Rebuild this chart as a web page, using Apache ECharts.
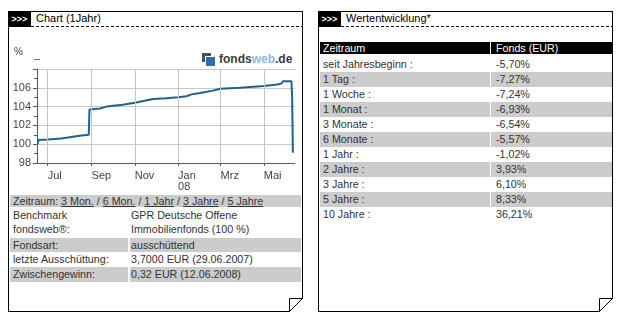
<!DOCTYPE html>
<html><head><meta charset="utf-8">
<script src="https://cdn.jsdelivr.net/npm/echarts@6/dist/echarts.min.js"></script>
<style>
html,body{margin:0;padding:0;background:#fff}
body{width:618px;height:316px;overflow:hidden;position:relative;font-family:"Liberation Sans",Arial,sans-serif;font-size:10.7px;color:#333}
.a{position:absolute;white-space:nowrap}
.blk{background:#000}
.gray{background:#cccccc}
.dash{height:1px;background:repeating-linear-gradient(to right,#000 0 3px,transparent 3px 5px)}
.hb{color:#fff;font-weight:bold;font-size:9px;line-height:16px;text-align:center;letter-spacing:0px}
.u{text-decoration:underline}
</style></head>
<body>
<div id="page"></div>
<div id="chart" class="a" style="left:9px;top:36px;width:292px;height:156px"></div>
<script>
// ---------- data ----------
const dates = ['2007-06-17','2007-06-18','2007-07-01','2007-07-20','2007-08-01','2007-08-15','2007-08-28','2007-08-29','2007-09-13','2007-09-22','2007-10-15','2007-11-01','2007-11-27','2007-12-15','2008-01-01','2008-01-13','2008-01-20','2008-02-01','2008-02-19','2008-03-01','2008-03-29','2008-05-01','2008-05-20','2008-05-26','2008-05-28','2008-06-09','2008-06-10','2008-06-11'];
const values = [100.05,100.45,100.5,100.6,100.75,100.9,101.0,103.7,103.8,104.0,104.2,104.4,104.8,104.9,105.0,105.1,105.3,105.45,105.7,105.9,106.0,106.2,106.35,106.45,106.7,106.7,104.9,99.1];
const xTickDates = ['2007-07-01','2007-09-01','2007-11-01','2008-01-01','2008-03-01','2008-05-01'];
const xTickLabels = ['Jul','Sep','Nov','Jan\n08','Mrz','Mai'];
const yMin = 98, yMax = 108, yStep = 2;
const axisStart = '2007-06-16', axisEnd = '2008-06-14';

const infoLabels = ['Benchmark\nfondsweb®:','Fondsart:','letzte Ausschüttung:','Zwischengewinn:'];
const infoValues = ['GPR Deutsche Offene\nImmobilienfonds (100 %)','ausschüttend','3,7000 EUR (29.06.2007)','0,32 EUR (12.06.2008)'];
const periodLinks = ['3 Mon.','6 Mon.','1 Jahr','3 Jahre','5 Jahre'];

const perfHeader = ['Zeitraum','Fonds (EUR)'];
const perfPeriods = ['seit Jahresbeginn :','1 Tag :','1 Woche :','1 Monat :','3 Monate :','6 Monate :','1 Jahr :','2 Jahre :','3 Jahre :','5 Jahre :','10 Jahre :'];
const perfValues = ['-5,70%','-7,27%','-7,24%','-6,93%','-6,54%','-5,57%','-1,02%','3,93%','6,10%','8,33%','36,21%'];

// ---------- page layout ----------
function ts(s){const p=s.split('-').map(Number);return Date.UTC(p[0],p[1]-1,p[2]);}
const page = document.getElementById('page');
function box(l,t,w,h,cls,html,style){const d=document.createElement('div');d.className='a '+(cls||'');d.style.cssText=`left:${l}px;top:${t}px;width:${w}px;height:${h}px;`+(style||'');if(html!==undefined)d.innerHTML=html;page.appendChild(d);return d;}
function panel(x0,x1,title){
  box(x0,11,x1-x0+1,1,'blk');
  box(x0,11,1,301,'blk');
  box(x1,11,1,288,'blk');
  box(x0,311,x1-13-x0+1,1,'blk');
  box(x0,11,23,16,'blk hb','&gt;&gt;&gt;');
  box(x0+28,11,200,16,'',title,'line-height:15px;color:#000;font-size:11px');
  box(x0+23,26,x1-x0-22,1,'dash');
  const f=x1-13;
  const svg=`<svg width="16" height="16" style="position:absolute;left:${f-1}px;top:297px;overflow:visible"><polyline points="1.5,14.5 1.5,1.5 14.5,1.5" fill="none" stroke="#000" stroke-width="1"/><line x1="14.5" y1="1.5" x2="1.5" y2="14.5" stroke="#000" stroke-width="1"/></svg>`;
  page.insertAdjacentHTML('beforeend',svg);
}
panel(8,302,'Chart (1Jahr)');
panel(318,612,'Wertentwicklung*');

// left info block
box(10,195,291,12,'gray','','');
box(13,195,288,12,'','Zeitraum: '+periodLinks.map(s=>'<span class="u">'+s+'</span>').join(' / '),'line-height:12px');
const infoRows=[{t:208,h:30,lh:14,g:false},{t:238,h:14,lh:14,g:true},{t:252,h:15,lh:15,g:false},{t:267,h:15,lh:15,g:true}];
infoRows.forEach((r,i)=>{
  if(r.g){box(10,r.t,118,r.h,'gray');box(130,r.t,171,r.h,'gray');}
  box(13,r.t,114,r.h,'',infoLabels[i].replace('\n','<br>'),`line-height:${r.lh}px`);
  box(131,r.t,170,r.h,'',infoValues[i].replace('\n','<br>'),`line-height:${r.lh}px`);
});

// right perf table
box(320,42,170,12,'blk');box(491,42,121,12,'blk');
box(323,42,160,12,'',perfHeader[0],'line-height:12px;color:#fff');
box(496,42,110,12,'',perfHeader[1],'line-height:12px;color:#fff');
perfPeriods.forEach((p,i)=>{
  const t=57+15*i;
  if(i%2===1){box(320,t,170,15,'gray');box(491,t,121,15,'gray');}
  box(323,t,160,15,'',p,'line-height:15px');
  box(496,t,110,15,'',perfValues[i],'line-height:15px');
});

// logo
box(202,53,9,9,'','','background:#505050');
box(205,56,9,9,'','','background:#2a6db3;border-top:1px solid #fff;border-left:1px solid #fff');
box(219,51,80,16,'','<span style="color:#3c3c3c">fonds</span><span style="color:#8cb9e3">web</span><span style="color:#3c3c3c">.de</span>','font-weight:bold;font-size:12px;line-height:16px');

// ---------- chart ----------
const chart = echarts.init(document.getElementById('chart'), null, {renderer:'canvas'});
const tickTs = xTickDates.map(ts);
const lineData = dates.map((d,i)=>[ts(d),values[i]]);
const axisColor = '#2c6688';
chart.setOption({
  animation:false,
  grid:{left:28,right:6,top:33,bottom:29},
  xAxis:{type:'value',min:ts(axisStart),max:ts(axisEnd),
    axisLine:{show:true,lineStyle:{color:axisColor,width:1}},
    axisTick:{show:true,customValues:tickTs,length:3,lineStyle:{color:axisColor}},
    axisLabel:{customValues:tickTs,align:'left',margin:7,fontSize:11,lineHeight:11,color:'#3b4650',fontFamily:'Liberation Sans',
      formatter:v=>{const i=tickTs.indexOf(v);return i>=0?xTickLabels[i]:'';}},
    splitLine:{show:false}},
  yAxis:{type:'value',min:yMin,max:yMax,interval:yStep,
    axisLine:{show:true,lineStyle:{color:axisColor,width:1}},
    axisTick:{show:true,length:4,lineStyle:{color:axisColor}},
    minorTick:{show:true,splitNumber:2,length:3,lineStyle:{color:axisColor}},
    axisLabel:{showMaxLabel:false,margin:6,fontSize:11,color:'#3b4650',fontFamily:'Liberation Sans'},
    splitLine:{show:true,lineStyle:{color:'#c8c8c8',width:1}}},
  graphic:[
    {type:'text',left:5,top:11,style:{text:'%',fontSize:10,fill:'#3b4650',fontFamily:'Liberation Sans'}},
    {type:'text',left:25,top:17,style:{text:'–',fontSize:11,fill:'#3b4650',fontFamily:'Liberation Sans'}}
  ],
  series:[
    {type:'line',data:lineData,showSymbol:false,z:3,lineStyle:{color:'#23608d',width:2},
     markLine:{symbol:'none',silent:true,label:{show:false},
       lineStyle:{color:'#c4c4c4',width:1,type:'solid'},
       data:tickTs.map(t=>({xAxis:t}))}}
  ]
});
</script>
</body></html>
